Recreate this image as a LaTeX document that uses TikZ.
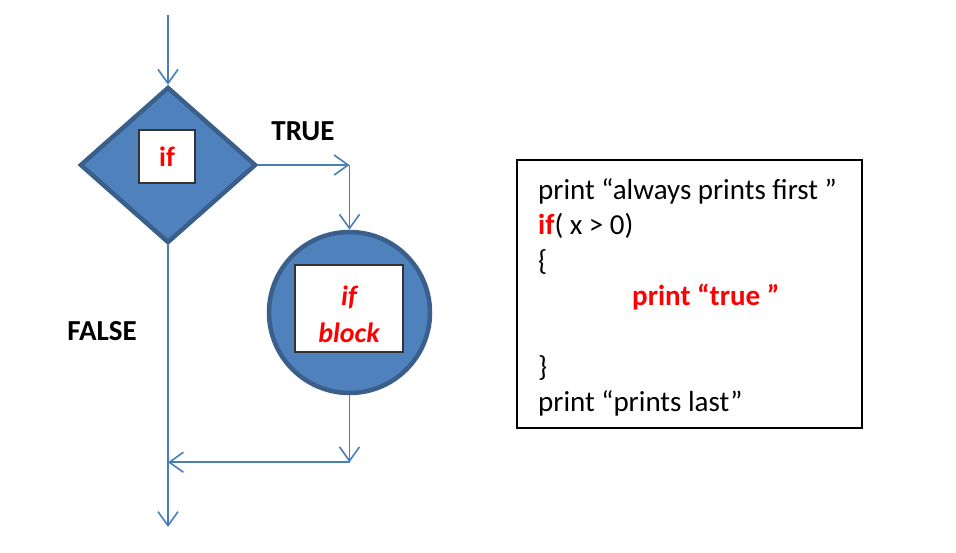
\documentclass[tikz,border=0pt]{standalone}
\usepackage{fontspec}
\setmainfont{Carlito}
\usetikzlibrary{shapes.geometric,arrows.meta}
\definecolor{boxblue}{HTML}{4F81BD}
\definecolor{rimblue}{HTML}{3A5F8B}
\definecolor{flowblue}{HTML}{4A7EBB}
\definecolor{codered}{HTML}{FF0000}
\begin{document}
\begin{tikzpicture}[x=1pt,y=-1pt,
  flow/.style={draw=flowblue, line width=1.6pt, -{Straight Barb[length=14pt,width=20pt]}},
  shapeblue/.style={fill=boxblue, draw=rimblue, line width=4.5pt, inner sep=0pt},
  inbox/.style={draw=black!80, fill=white, line width=1.2pt, inner sep=0pt},
  codeline/.style={anchor=base west, inner sep=0pt, font=\fontsize{29}{35}\selectfont}]
  \useasboundingbox (0,0) rectangle (956,552);
  \node[shapeblue, diamond, minimum width=176pt, minimum height=156pt] (dec) at (168,165) {};
  \node[inbox, minimum width=56pt, minimum height=53pt, font=\fontsize{28}{34}\selectfont\bfseries, text=codered] (ifbox) at (167,156.5) {if};
  \node[shapeblue, circle, minimum size=161pt] (blk) at (349.5,312.5) {};
  \node[inbox, minimum width=108pt, minimum height=87pt] (blkbox) at (349,308.5) {};
  \node[align=center, text=codered, font=\fontsize{28}{37}\selectfont\bfseries\itshape] (blktext) at (349,314) {if\\block};
  \node[font=\fontsize{29}{35}\selectfont\bfseries] (truelbl) at (303,131) {TRUE};
  \node[font=\fontsize{29}{35}\selectfont\bfseries] (falselbl) at (102,331) {FALSE};
  \coordinate (start) at (168,15);
  \coordinate (finish) at (168,527);
  \draw[flow] (start) -- (dec.north);
  \draw[flow] (dec.east) -- (dec.east -| blk.north);
  \draw[flow] (dec.east -| blk.north) -- (blk.north);
  \draw[flow] (blk.south) -- ++(0,67) coordinate (join);
  \draw[flow] (join) -- (join -| dec.south);
  \draw[flow] (dec.south) -- (finish);
  \node[draw=black, line width=1.5pt, minimum width=345pt, minimum height=268pt, inner sep=0pt] (code) at (689.5,294) {};
  \node[codeline] (l1) at (538,199) {print “always prints first ”};
  \node[codeline] (l2) at (538,234.5) {\textcolor{codered}{\bfseries if}( x > 0)};
  \node[codeline] (l3) at (538,270) {\{};
  \node[codeline, text=codered, font=\fontsize{29}{35}\selectfont\bfseries] (l4) at (632,305.5) {print “true ”};
  \node[codeline] (l5) at (538,376.5) {\}};
  \node[codeline] (l6) at (538,411) {print “prints last”};
\end{tikzpicture}
\end{document}
